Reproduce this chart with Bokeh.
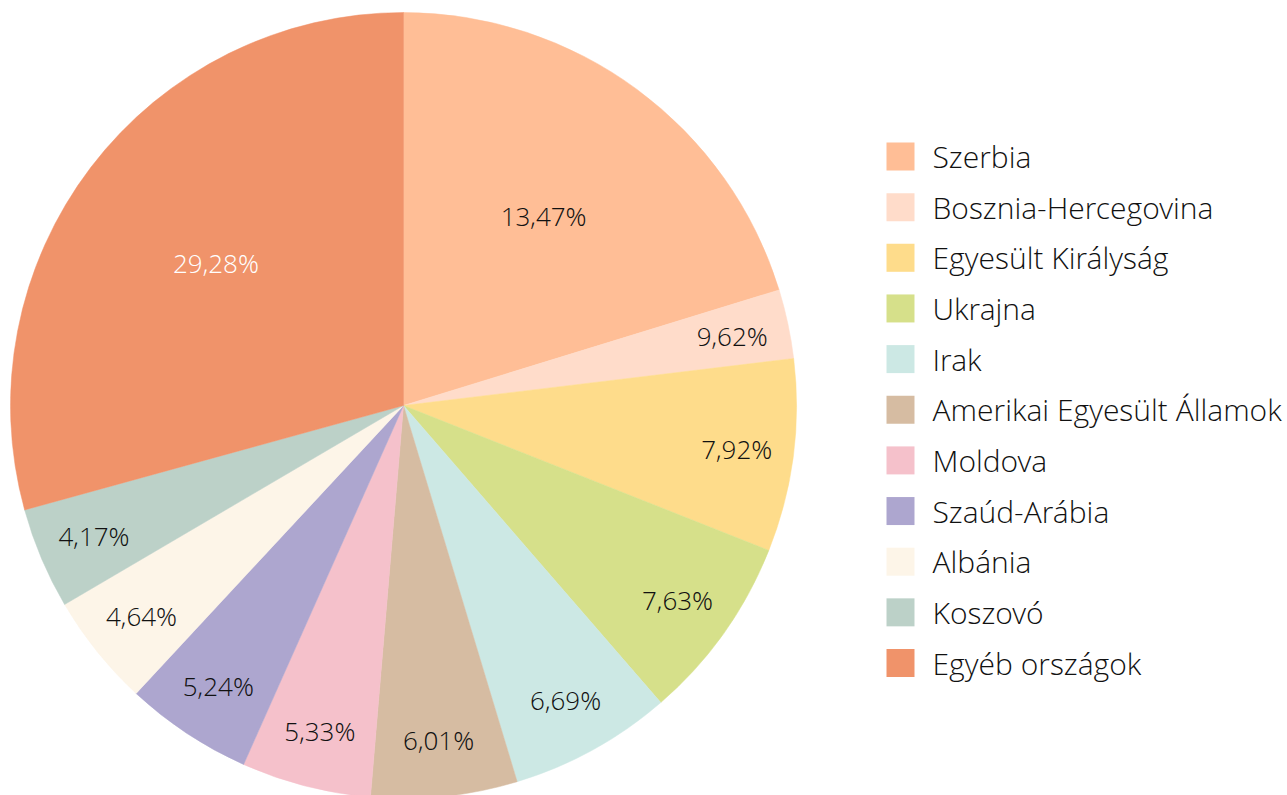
import math
from bokeh.plotting import figure
from bokeh.models import Range1d, ColumnDataSource
from bokeh.core.properties import value
from bokeh.embed import file_html
from bokeh.resources import INLINE

categories = ["Szerbia", "Bosznia-Hercegovina", "Egyesült Királyság", "Ukrajna", "Irak",
              "Amerikai Egyesült Államok", "Moldova", "Szaúd-Arábia", "Albánia", "Koszovó",
              "Egyéb országok"]
# slice sizes as drawn (percent)
shares = [20.25, 2.84, 7.92, 7.63, 6.69, 6.01, 5.33, 5.24, 4.64, 4.17, 29.28]
# labels as printed on the slices
labels = ["13,47%", "9,62%", "7,92%", "7,63%", "6,69%", "6,01%", "5,33%", "5,24%",
          "4,64%", "4,17%", "29,28%"]
colors = ["#FFBE96", "#FFDCCA", "#FEDC8B", "#D6E08A", "#CCE8E4", "#D6BCA2",
          "#F5C1CB", "#ADA6CF", "#FDF5E8", "#BCD1C8", "#F0936A"]
label_colors = ["#111111"] * 10 + ["#ffffff"]

W, H = 1287, 795
FONT = "'Open Sans Light', 'Open Sans'"

p = figure(width=W, height=H, output_backend="svg", toolbar_location=None,
           x_range=Range1d(0, W), y_range=Range1d(0, H), min_border=0)
p.axis.visible = False
p.grid.visible = False
p.outline_line_color = None
p.background_fill_color = "white"

cx, cy, R = 403, H - 405, 393
total = sum(shares)
starts, ends, lx, ly = [], [], [], []
cum = 0.0
for s in shares:
    a0 = math.pi / 2 - 2 * math.pi * cum / total
    cum += s
    a1 = math.pi / 2 - 2 * math.pi * cum / total
    starts.append(a0)
    ends.append(a1)
    mid = (a0 + a1) / 2
    rf = 0.6 if s > 15 else 0.855
    lx.append(cx + R * rf * math.cos(mid))
    ly.append(cy + R * rf * math.sin(mid))

src = ColumnDataSource(dict(start=starts, end=ends, color=colors, lx=lx, ly=ly,
                            label=labels, lcolor=label_colors))
p.wedge(x=cx, y=cy, radius=R, radius_units="screen", start_angle="start", end_angle="end",
        direction="clock", fill_color="color", line_color="color", line_width=0.5, source=src)
p.text(x="lx", y="ly", text="label", text_color="lcolor", source=src,
       text_align="center", text_baseline="middle", text_font=value(FONT),
       text_font_size="26px")

# legend
n = len(categories)
leg_y = [H - (156 + 50.65 * i) for i in range(n)]
leg_src = ColumnDataSource(dict(y=leg_y, color=colors, name=categories))
p.rect(x=900, y="y", width=28, height=28, width_units="screen", height_units="screen",
       fill_color="color", line_color=None, source=leg_src)
p.text(x=932, y="y", text="name", source=leg_src, text_align="left", text_baseline="middle",
       text_font=value(FONT), text_font_size="30px", text_color="#111111")

open("out.html", "w").write(file_html(p, INLINE))
